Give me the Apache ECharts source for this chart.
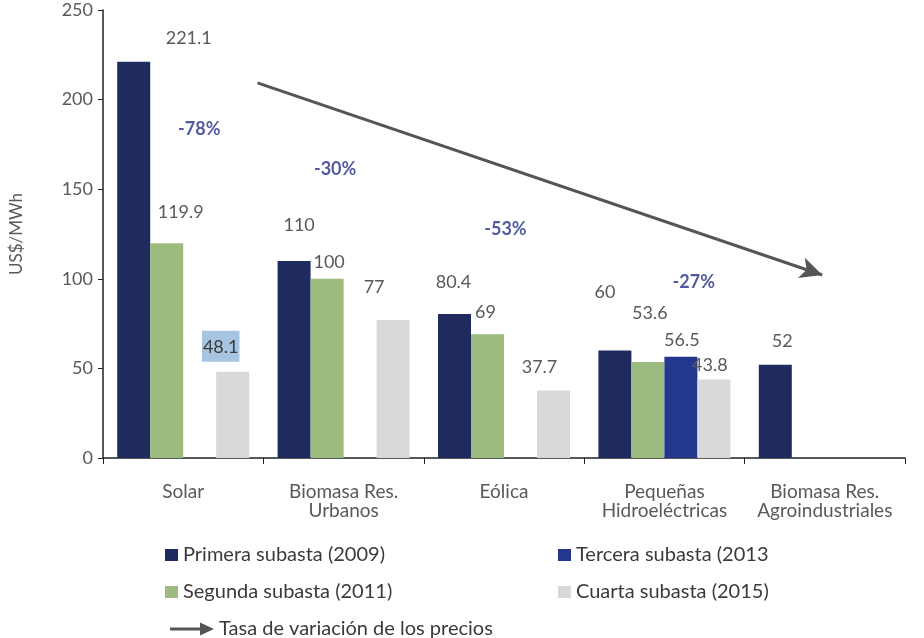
<!DOCTYPE html>
<html>
<head>
<meta charset="utf-8">
<script src="https://cdn.jsdelivr.net/npm/echarts@6/dist/echarts.min.js"></script>
<style>html,body{margin:0;padding:0;background:#fff}#c{width:924px;height:638px}</style>
</head>
<body>
<div id="c"></div>
<script>
// ---- data ----
const categories = ['Solar', 'Biomasa Res.\nUrbanos', 'Eólica', 'Pequeñas\nHidroeléctricas', 'Biomasa Res.\nAgroindustriales'];
const seriesNames = ['Primera subasta (2009)', 'Segunda subasta (2011)', 'Tercera subasta (2013', 'Cuarta subasta (2015)'];
const primera = [221.1, 110, 80.4, 60, 52];
const segunda = [119.9, 100, 69, 53.6, null];
const tercera = [null, null, null, 56.5, null];
const cuarta  = [48.1, 77, 37.7, 43.8, null];
const yTicks = [0, 50, 100, 150, 200, 250];
const yName = 'US$/MWh';
const trendName = 'Tasa de variación de los precios';
const pctLabels = ['-78%', '-30%', '-53%', '-27%'];
// annotation placement (in category-index / value space)
const pctPos = [[0.60, 183.6], [1.447, 161.2], [2.509, 127.8], [3.683, 98.2]];
const trendLine = [[0.963, 209.3], [4.484, 102.1]];

// ---- styles ----
const colors = ['#1F2B5E', '#9CBB7E', '#23378F', '#D9D9D9'];
const labelShift = [
  [[55, -10], [5, -22], [-1, -18], [-10, -44], [7, -10]],
  [[14, -17], [2, -3], [-2, -8], [2, -35], [0, 0]],
  [[0, 0], [0, 0], [0, 0], [1, -3], [0, 0]],
  [[-12, -5], [-19, -19], [-14, -9], [-4, 0], [0, 0]]
];
const font = 'Lato, "Open Sans", sans-serif';
const txt = '#595959';

const allVals = [primera, segunda, tercera, cuarta];
const barSeries = allVals.map((vals, si) => ({
  name: seriesNames[si],
  type: 'bar',
  barWidth: 33,
  barGap: '0%',
  itemStyle: { color: colors[si] },
  data: vals.map((v, ci) => {
    if (v == null) return null;
    const item = {
      value: v,
      label: { offset: labelShift[si][ci] }
    };
    if (si === 3 && ci === 0) {
      item.label.backgroundColor = '#A7C5E2';
      item.label.padding = [7, 1, 6, 1];
      item.label.color = '#3A3A3A';
    }
    return item;
  }),
  label: {
    show: true, position: 'top', distance: 5,
    color: txt, fontSize: 18, fontFamily: font,
    formatter: p => String(p.value)
  }
}));

const chart = echarts.init(document.getElementById('c'));
chart.setOption({
  animation: false,
  textStyle: { fontFamily: font },
  grid: { left: 100, top: 10, right: 19, bottom: 180, containLabel: false },
  xAxis: [{
    type: 'category',
    data: categories,
    axisLine: { lineStyle: { color: '#222', width: 1.5 } },
    axisTick: { show: true, alignWithLabel: false, length: 6, lineStyle: { color: '#222' } },
    axisLabel: { color: txt, fontSize: 19, fontFamily: font, margin: 24, lineHeight: 19, interval: 0 }
  }, {
    type: 'value', min: 0, max: 5, show: false
  }],
  yAxis: {
    type: 'value', min: yTicks[0], max: yTicks[yTicks.length - 1], interval: 50,
    name: yName, nameLocation: 'middle', nameGap: 78, nameRotate: 90,
    nameTextStyle: { color: txt, fontSize: 17, fontFamily: font },
    axisLine: { show: true, lineStyle: { color: '#222', width: 1.5 } },
    axisTick: { show: true, length: 5, lineStyle: { color: '#222' } },
    splitLine: { show: false },
    axisLabel: { color: txt, fontSize: 18, fontFamily: font, margin: 10 }
  },
  legend: [{
    left: 160, top: 540, orient: 'vertical', itemGap: 17,
    itemWidth: 13, itemHeight: 12, icon: 'rect',
    textStyle: { color: '#3A3A3A', fontSize: 20, fontFamily: font },
    data: [seriesNames[0], seriesNames[1]]
  }, {
    left: 553, top: 540, orient: 'vertical', itemGap: 17,
    itemWidth: 13, itemHeight: 12, icon: 'rect',
    textStyle: { color: '#3A3A3A', fontSize: 20, fontFamily: font },
    data: [seriesNames[2], seriesNames[3]]
  }, {
    left: 165, top: 614, itemWidth: 44, itemHeight: 13,
    textStyle: { color: '#3A3A3A', fontSize: 20, fontFamily: font },
    data: [{ name: trendName, icon: 'path://M0,5 L30,5 L30,0 L44,6.5 L30,13 L30,8 L0,8 Z' }]
  }],
  series: barSeries.concat([{
    name: trendName,
    type: 'line',
    xAxisIndex: 1,
    data: [],
    itemStyle: { color: '#555555' },
    lineStyle: { color: '#555555' },
    markLine: {
      silent: true,
      symbol: ['none', 'arrow'],
      symbolSize: [16, 22],
      label: { show: false },
      lineStyle: { color: '#555555', width: 3, type: 'solid' },
      data: [[{ coord: trendLine[0] }, { coord: trendLine[1] }]]
    }
  }, {
    name: 'pct',
    type: 'scatter',
    xAxisIndex: 1,
    symbolSize: 0,
    silent: true,
    data: pctPos.map((p, i) => ({ value: p, label: { formatter: pctLabels[i] } })),
    label: {
      show: true, position: 'inside',
      color: '#262F8A', fontSize: 18, fontWeight: 'bold', fontFamily: font
    }
  }])
});
</script>
</body>
</html>
